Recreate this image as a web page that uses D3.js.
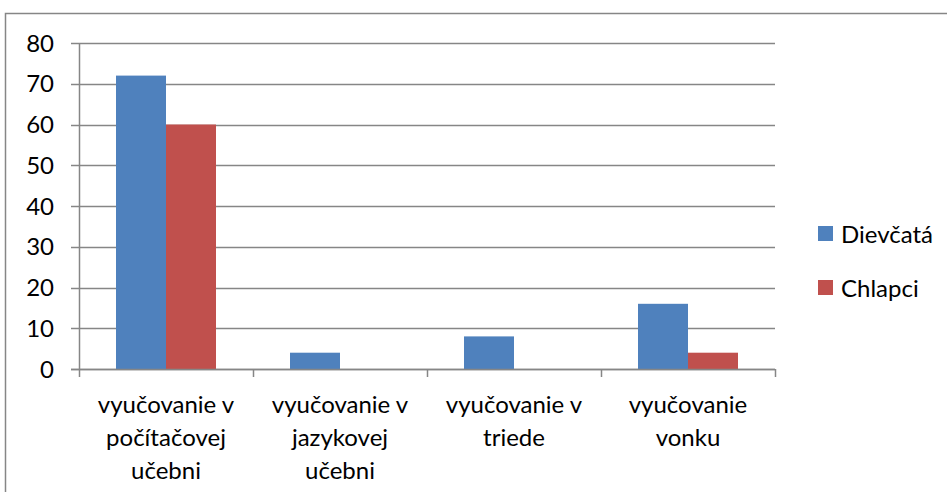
<!DOCTYPE html>
<html>
<head>
<meta charset="utf-8">
<script src="https://cdn.jsdelivr.net/npm/d3@7"></script>
<style>
  body { margin: 0; background: #fff; }
  svg { display: block; font-family: Lato, "Liberation Sans", sans-serif; }
</style>
</head>
<body>
<div id="chart"></div>
<script>
// data
const categories = [
  ["vyučovanie v", "počítačovej", "učebni"],
  ["vyučovanie v", "jazykovej", "učebni"],
  ["vyučovanie v", "triede"],
  ["vyučovanie", "vonku"]
];
const seriesNames = ["Dievčatá", "Chlapci"];
const dievcata = [72, 4, 8, 16];
const chlapci = [60, 0, 0, 4];
const yTicks = [0, 10, 20, 30, 40, 50, 60, 70, 80];

const colors = ["#4F81BD", "#C0504D"];
const gridColor = "#868686";

const width = 947, height = 492;
const plot = { left: 79, right: 775, top: 43, bottom: 369 };
const fontSize = 24;

const svg = d3.select("#chart").append("svg")
  .attr("width", width)
  .attr("height", height);

// outer chart border
svg.append("path")
  .attr("d", `M5.5,${height} V13.5 H${width}`)
  .attr("fill", "none")
  .attr("stroke", gridColor)
  .attr("stroke-width", 1.5);

const x = d3.scaleBand()
  .domain(d3.range(categories.length))
  .range([plot.left, plot.right]);

// two bars per group, gap of ~0.74 bar widths on each side
const x1 = d3.scaleBand()
  .domain(d3.range(seriesNames.length))
  .range([0, x.bandwidth()])
  .paddingInner(0)
  .paddingOuter(0.74);

const y = d3.scaleLinear()
  .domain([0, 80])
  .range([plot.bottom, plot.top]);

// gridlines
svg.append("g")
  .selectAll("line")
  .data(yTicks)
  .join("line")
  .attr("x1", plot.left - 8)
  .attr("x2", plot.right)
  .attr("y1", d => Math.round(y(d)) + 0.5)
  .attr("y2", d => Math.round(y(d)) + 0.5)
  .attr("stroke", gridColor)
  .attr("stroke-width", 1.5);

// y labels
svg.append("g")
  .selectAll("text")
  .data(yTicks)
  .join("text")
  .attr("x", 54)
  .attr("y", d => y(d))
  .attr("dy", "0.36em")
  .attr("text-anchor", "end")
  .attr("font-size", fontSize)
  .attr("fill", "#000")
  .text(d => d);

// bars
const series = [dievcata, chlapci];
const groups = svg.append("g")
  .selectAll("g")
  .data(categories.map((c, i) => i))
  .join("g")
  .attr("transform", i => `translate(${x(i)},0)`);

groups.selectAll("rect")
  .data(i => series.map((s, j) => ({ j, v: s[i] })))
  .join("rect")
  .attr("x", d => x1(d.j))
  .attr("width", x1.bandwidth())
  .attr("y", d => y(d.v))
  .attr("height", d => y(0) - y(d.v))
  .attr("fill", d => colors[d.j]);

// y axis line
svg.append("line")
  .attr("x1", plot.left + 0.5).attr("x2", plot.left + 0.5)
  .attr("y1", plot.top).attr("y2", plot.bottom)
  .attr("stroke", gridColor).attr("stroke-width", 1.5);

// x axis line + ticks
svg.append("line")
  .attr("x1", plot.left - 8).attr("x2", plot.right)
  .attr("y1", plot.bottom + 0.5).attr("y2", plot.bottom + 0.5)
  .attr("stroke", gridColor).attr("stroke-width", 1.5);

const xTickPos = d3.range(categories.length + 1).map(i => i < categories.length ? x(i) : plot.right);
svg.append("g")
  .selectAll("line")
  .data(xTickPos)
  .join("line")
  .attr("x1", d => Math.round(d) + 0.5)
  .attr("x2", d => Math.round(d) + 0.5)
  .attr("y1", plot.bottom)
  .attr("y2", plot.bottom + 8)
  .attr("stroke", gridColor)
  .attr("stroke-width", 1.5);

// category labels
const catLabels = svg.append("g")
  .selectAll("text")
  .data(categories)
  .join("text")
  .attr("text-anchor", "middle")
  .attr("font-size", fontSize)
  .attr("fill", "#000");

catLabels.selectAll("tspan")
  .data((d, i) => d.map(line => ({ line, i })))
  .join("tspan")
  .attr("x", d => x(d.i) + x.bandwidth() / 2)
  .attr("y", (d, k) => 413 + k * 33)
  .text(d => d.line);

// legend
const legend = svg.append("g")
  .selectAll("g")
  .data(seriesNames)
  .join("g")
  .attr("transform", (d, i) => `translate(818,${226 + i * 54})`);

legend.append("rect")
  .attr("width", 15)
  .attr("height", 15)
  .attr("fill", (d, i) => colors[i]);

legend.append("text")
  .attr("x", 23)
  .attr("y", 8)
  .attr("dy", "0.36em")
  .attr("font-size", fontSize)
  .attr("fill", "#000")
  .text(d => d);
</script>
</body>
</html>
